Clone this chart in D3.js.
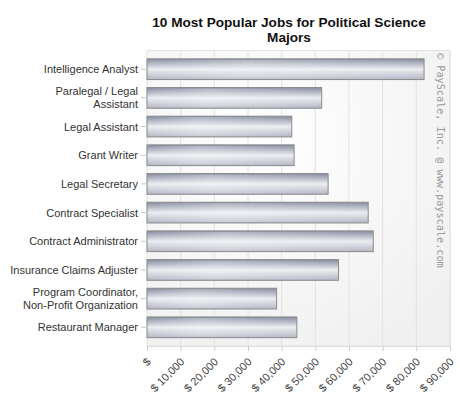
<!DOCTYPE html>
<html>
<head>
<meta charset="utf-8">
<script src="https://cdn.jsdelivr.net/npm/d3@7"></script>
<style>
  body { margin: 0; background: #fff; }
  text { font-family: "Liberation Sans", Arial, sans-serif; }
</style>
</head>
<body>
<div id="chart"></div>
<script>
const jobs = ["Intelligence Analyst", "Paralegal / Legal|Assistant", "Legal Assistant", "Grant Writer",
              "Legal Secretary", "Contract Specialist", "Contract Administrator", "Insurance Claims Adjuster",
              "Program Coordinator,|Non-Profit Organization", "Restaurant Manager"];
const salaries = [82300, 51900, 43000, 43700, 53800, 65700, 67200, 56900, 38500, 44500];
const ticks = [0, 10000, 20000, 30000, 40000, 50000, 60000, 70000, 80000, 90000];

const width = 460,
      height = 400,
      margin = ({ top: 50.5, right: 10, bottom: 54, left: 147 });

const svg = d3.select("#chart")
    .append("svg")
    .attr("width", width)
    .attr("height", height);

const defs = svg.append("defs");

let barGrad = defs.append("linearGradient")
    .attr("id", "barGrad")
    .attr("x1", 0).attr("y1", 0).attr("x2", 0).attr("y2", 1);
barGrad.append("stop").attr("offset", "0%").attr("stop-color", "#858a9e");
barGrad.append("stop").attr("offset", "15%").attr("stop-color", "#a4a8b8");
barGrad.append("stop").attr("offset", "50%").attr("stop-color", "#ecedf1");
barGrad.append("stop").attr("offset", "100%").attr("stop-color", "#b3b6c4");

// soft horizontal sheen on top of the bars
let sheen = defs.append("linearGradient")
    .attr("id", "sheen")
    .attr("x1", 0).attr("y1", 0).attr("x2", 1).attr("y2", 0);
sheen.append("stop").attr("offset", "0%").attr("stop-color", "#fff").attr("stop-opacity", 0);
sheen.append("stop").attr("offset", "35%").attr("stop-color", "#fff").attr("stop-opacity", 0.3);
sheen.append("stop").attr("offset", "100%").attr("stop-color", "#fff").attr("stop-opacity", 0);

let bgGrad = defs.append("radialGradient")
    .attr("id", "bgGrad")
    .attr("cx", "40%").attr("cy", "30%").attr("r", "80%");
bgGrad.append("stop").attr("offset", "0%").attr("stop-color", "#ffffff");
bgGrad.append("stop").attr("offset", "100%").attr("stop-color", "#f0f0f0");

let sepGrad = defs.append("linearGradient")
    .attr("id", "sepGrad")
    .attr("x1", 0).attr("y1", 0).attr("x2", 1).attr("y2", 0);
sepGrad.append("stop").attr("offset", "0%").attr("stop-color", "#cccccc").attr("stop-opacity", 0.3);
sepGrad.append("stop").attr("offset", "60%").attr("stop-color", "#999999");
sepGrad.append("stop").attr("offset", "100%").attr("stop-color", "#aaaaaa");

let x = d3.scaleLinear()
    .domain([0, 90000])
    .range([margin.left, width - margin.right]);

let y = d3.scaleBand()
    .domain(jobs)
    .range([margin.top, height - margin.bottom])
    .paddingInner(0.277)
    .paddingOuter(0.29);

const gap = y.step() - y.bandwidth();

// plot background
svg.append("rect")
    .attr("x", x(0))
    .attr("y", margin.top)
    .attr("width", x(90000) - x(0))
    .attr("height", height - margin.bottom - margin.top)
    .attr("fill", "url(#bgGrad)")
    .attr("stroke", "#e4e4e4");

// vertical grid
svg.append("g")
    .selectAll("line")
    .data(ticks.slice(1))
    .join("line")
    .attr("x1", d => x(d)).attr("x2", d => x(d))
    .attr("y1", margin.top).attr("y2", height - margin.bottom)
    .attr("stroke", "#e2e2e2");

// row separators on the left
svg.append("g")
    .selectAll("line")
    .data(jobs.slice(1))
    .join("line")
    .attr("x1", 10).attr("x2", margin.left - 2)
    .attr("y1", d => Math.round(y(d) - gap / 2) + 0.5)
    .attr("y2", d => Math.round(y(d) - gap / 2) + 0.5)
    .attr("stroke", "url(#sepGrad)");

// bars
let bars = svg.append("g")
    .selectAll("g")
    .data(jobs)
    .join("g");

bars.append("rect")
    .attr("x", x(0))
    .attr("y", d => y(d))
    .attr("width", (d, i) => x(salaries[i]) - x(0))
    .attr("height", y.bandwidth())
    .attr("fill", "url(#barGrad)")
    .attr("stroke", "#8c8c8c")
    .attr("stroke-width", 1);

bars.append("rect")
    .attr("x", x(0) + 1)
    .attr("y", d => y(d) + 1)
    .attr("width", (d, i) => x(salaries[i]) - x(0) - 2)
    .attr("height", y.bandwidth() - 2)
    .attr("fill", "url(#sheen)");

// y axis ticks
let yAxis = svg.append("g")
    .attr("transform", `translate(${margin.left}, 0)`)
    .call(d3.axisLeft(y).tickSize(6).tickFormat(""));
yAxis.select(".domain").remove();
yAxis.selectAll(".tick line").attr("stroke", "#c8c8c8");

// y labels (some wrap onto two lines)
svg.append("g")
    .selectAll("text")
    .data(jobs)
    .join("text")
    .attr("text-anchor", "end")
    .attr("font-size", 11)
    .attr("fill", "#333")
    .each(function(d) {
        let parts = d.split("|");
        let cy = y(d) + y.bandwidth() / 2;
        let t = d3.select(this);
        parts.forEach((p, k) => {
            t.append("tspan")
                .attr("x", margin.left - 9)
                .attr("y", cy + 4 + (k - (parts.length - 1) / 2) * 13)
                .text(p);
        });
    });

// x axis
let xAxis = svg.append("g")
    .attr("transform", `translate(0, ${height - margin.bottom})`)
    .call(d3.axisBottom(x).tickValues(ticks).tickSize(5)
        .tickFormat(d => d === 0 ? "$" : "$ " + d3.format(",")(d)));
xAxis.select(".domain").attr("stroke", "#dddddd");
xAxis.selectAll(".tick line").attr("stroke", "#cccccc");
xAxis.selectAll(".tick text")
    .attr("font-size", 11)
    .attr("fill", "#444")
    .attr("text-anchor", "end")
    .attr("y", 14.5)
    .attr("dy", 0)
    .attr("dx", -8.8)
    .attr("transform", "rotate(-45)");

// title
svg.append("text")
    .attr("x", 289)
    .attr("y", 27)
    .attr("text-anchor", "middle")
    .attr("font-size", 13.6)
    .attr("font-weight", "bold")
    .attr("fill", "#111")
    .selectAll("tspan")
    .data(["10 Most Popular Jobs for Political Science", "Majors"])
    .join("tspan")
    .attr("x", 289)
    .attr("dy", (d, i) => i === 0 ? 0 : 15)
    .text(d => d);

// watermark
svg.append("text")
    .attr("transform", "translate(437, 53) rotate(90)")
    .attr("font-size", 10.2)
    .attr("fill", "#9a9a9a")
    .attr("style", "font-family: 'DejaVu Sans Mono', monospace")
    .text("© PayScale, Inc. @ www.payscale.com");
</script>
</body>
</html>
